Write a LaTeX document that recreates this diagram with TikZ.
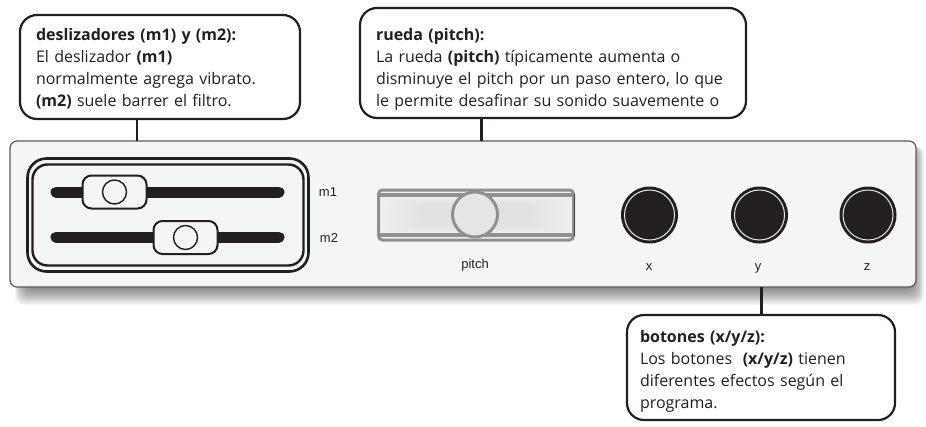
\documentclass[tikz,border=0pt]{standalone}
\usepackage{fontspec}
\setmainfont{Open Sans}
\newfontfamily\labelfont{Liberation Sans}
\usetikzlibrary{calc}
\definecolor{ink}{HTML}{231F20}
\definecolor{panelfill}{HTML}{F4F6F6}
\definecolor{wheelgrey}{HTML}{8F9191}
\newcommand{\toppad}[1]{\rule{0pt}{#1pt}}
\tikzset{
  x=1pt,y=-1pt,
  callout/.style={draw=ink,line width=2.2pt,rounded corners=17pt,fill=white,anchor=north west,align=left,inner ysep=0pt,outer sep=0pt,text=ink,
    font=\fontsize{16}{22}\selectfont},
  lead/.style={draw=ink,line width=2.2pt},
  track/.style={draw=ink,line width=11pt,line cap=round},
  knob/.style={draw=ink,line width=2pt,fill=panelfill,rounded corners=9pt,minimum width=64pt,minimum height=33pt,inner sep=0pt},
  knobdot/.style={circle,draw=ink,line width=1.4pt,fill=panelfill,minimum size=24pt,inner sep=0pt},
  tag/.style={font=\labelfont\fontsize{13}{15}\selectfont,text=ink,inner sep=0pt},
  button/.style={circle,fill=ink,minimum size=57pt,inner sep=0pt},
  ring/.style={circle,draw=white!90!ink,line width=1pt,minimum size=50pt,inner sep=0pt},
}
\begin{document}
\begin{tikzpicture}
\useasboundingbox (0,0) rectangle (926,426);
% panel shadow
\foreach \i in {1,2,...,14}
  \fill[black,opacity=0.04,rounded corners=9pt] (14+\i*0.8,146) rectangle (925-\i*0.8,306-\i*1.2);
% panel
\node[draw=ink!75,line width=1.2pt,fill=panelfill,rounded corners=7pt,minimum width=906pt,minimum height=146pt,inner sep=0pt,outer sep=0pt,anchor=north west] (panel) at (10,141) {};
% callouts
\node[callout,minimum width=280pt,minimum height=104pt,inner xsep=16pt,text width=248pt] (slidebox) at (20,15)
  {\toppad{16}\textbf{deslizadores (m1) y (m2):}\\El deslizador \textbf{(m1)}\\normalmente agrega vibrato.\\\textbf{(m2)} suele barrer el filtro.};
\node[callout,minimum width=386pt,minimum height=110pt,inner xsep=16pt,text width=354pt] (wheelbox) at (360,8)
  {\toppad{24}\textbf{rueda (pitch):}\\La rueda \textbf{(pitch)} típicamente aumenta o\\disminuye el pitch por un paso entero, lo que\\le permite desafinar su sonido suavemente o};
\node[callout,minimum width=268pt,minimum height=105pt,inner xsep=13pt,text width=242pt] (btnbox) at (627,315)
  {\toppad{20}\textbf{botones (x/y/z):}\\Los botones \ \textbf{(x/y/z)} tienen\\diferentes efectos según el\\programa.};
\coordinate (slidelead) at (137,119);
\coordinate (wheellead) at (481.5,118);
\coordinate (btnlead) at (761.5,315);
\draw[lead] (slidelead) -- (slidelead |- panel.north);
\draw[lead] (wheellead) -- (wheellead |- panel.north);
\draw[lead] (btnlead) -- (btnlead |- panel.south);
% slider frame
\node[draw=ink,line width=2.6pt,rounded corners=19pt,minimum width=281pt,minimum height=113pt,inner sep=0pt] (frameout) at (168,215) {};
\node[draw=ink,line width=2.4pt,rounded corners=15pt,minimum width=271pt,minimum height=101pt,inner sep=0pt] (framein) at (168,215) {};
\coordinate (t1a) at (56,192); \coordinate (t1b) at (279,192);
\coordinate (t2a) at (56,237); \coordinate (t2b) at (279,237);
\draw[track] (t1a) -- (t1b);
\draw[track] (t2a) -- (t2b);
\node[knob] (k1) at (114.5,192) {};
\node[knob] (k2) at (185.5,237.5) {};
\node[knobdot] (d1) at (114.5,192) {};
\node[knobdot] (d2) at (185.5,237.5) {};
\node[tag] (m1) at (328,192) {m1};
\node[tag] (m2) at (329,238) {m2};
% pitch wheel
\fill[white!94!black,rounded corners=2pt] (378,190) rectangle (574,240);
\foreach \i in {0,1,...,13}
  \fill[black,opacity=0.005,rounded corners=8pt] (380+\i*3,197+\i*0.5) rectangle (572-\i*3,233-\i*0.5);
\node[draw=wheelgrey,line width=3pt,rounded corners=4pt,minimum width=195pt,minimum height=50pt,inner sep=0pt,outer sep=0pt] (wheel) at (476,215) {};
\draw[draw=wheelgrey,line width=3.3pt] ($(wheel.north west)+(1,5)$) -- ($(wheel.north east)+(-1,5)$);
\draw[draw=wheelgrey,line width=3.3pt] ($(wheel.south west)+(1,-5)$) -- ($(wheel.south east)+(-1,-5)$);
\draw[draw=ink!85,line width=1pt] ($(wheel.north east)+(1,4)$) -- ($(wheel.south east)+(1,-4)$);
\node[circle,draw=wheelgrey,line width=3pt,fill=white!90!black,minimum size=45pt,inner sep=0pt] (wheeldot) at (475,214.5) {};
\node[tag] (pitchtag) at (475,265) {pitch};
% buttons
\foreach \n/\px/\lx in {x/649.5/649,y/759.5/758,z/868/867}{
  \node[button] (b\n) at (\px,215) {};
  \node[ring] (r\n) at (\px,215) {};
  \node[tag,anchor=base] (l\n) at (\lx,270) {\n};
}
\end{tikzpicture}
\end{document}
